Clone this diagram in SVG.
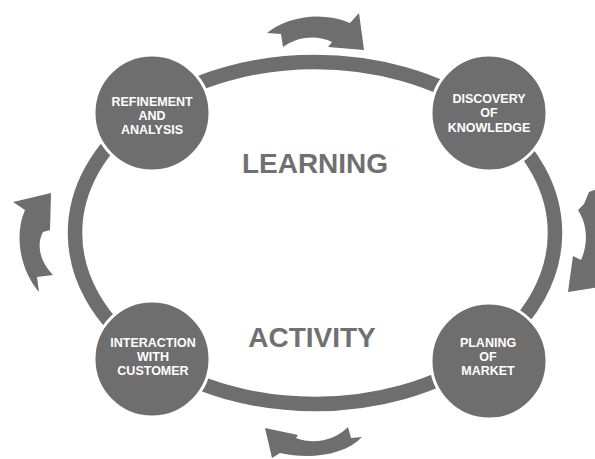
<svg xmlns="http://www.w3.org/2000/svg" width="595" height="459" viewBox="0 0 595 459">
<style>
.ring{fill:none;stroke:#6e6e6e;stroke-width:14.5}
.arr{fill:#6e6e6e}
.node circle{fill:#6e6e6e;stroke:#ffffff;stroke-width:3}
.node text{fill:#ffffff;font-family:"Liberation Sans",Arial,sans-serif;font-weight:bold;font-size:12.5px;text-anchor:middle}
.title{fill:#707070;font-family:"Liberation Sans",Arial,sans-serif;font-weight:bold;font-size:28px;text-anchor:middle}
</style>
<rect width="595" height="459" fill="#ffffff"/>
<g id="connectors">
<ellipse class="ring" cx="315" cy="233" rx="240" ry="171"/>
<path class="arr" d="M267,33 C285,18 320,10 350,23 L359,13 L364,50 L328,47 L332,42 C318,35 298,36 283,47 L281,34 Z"/>
<path class="arr" d="M600,188 L589,192 L584,204 L578,210 C588,225 588,245 581,260 L573,256 L568,292 L600,287 Z"/>
<path class="arr" d="M265,428 L298,435 L296,438 C315,445 335,440 348,427 L351,438 L362,437 C345,455 310,460 280,453 L272,458 Z"/>
<path class="arr" d="M13,202 L51,193 L50,230 L43,232 C36,245 40,262 53,275 L37,277 L39,292 C20,270 14,235 25,210 Z"/>
</g>
<g id="refinement" class="node">
<circle cx="152" cy="113" r="58"/>
<text x="152" y="106">REFINEMENT</text>
<text x="152" y="120">AND</text>
<text x="152" y="134">ANALYSIS</text>
</g>
<g id="discovery" class="node">
<circle cx="489" cy="113" r="58"/>
<text x="489" y="103">DISCOVERY</text>
<text x="489" y="117">OF</text>
<text x="489" y="132">KNOWLEDGE</text>
</g>
<g id="interaction" class="node">
<circle cx="152" cy="359" r="58"/>
<text x="153" y="347">INTERACTION</text>
<text x="153" y="361">WITH</text>
<text x="153" y="375">CUSTOMER</text>
</g>
<g id="planing" class="node">
<circle cx="489" cy="361" r="58"/>
<text x="488" y="347">PLANING</text>
<text x="488" y="361">OF</text>
<text x="488" y="375">MARKET</text>
</g>
<text class="title" x="315" y="173">LEARNING</text>
<text class="title" x="312" y="347">ACTIVITY</text>
</svg>
